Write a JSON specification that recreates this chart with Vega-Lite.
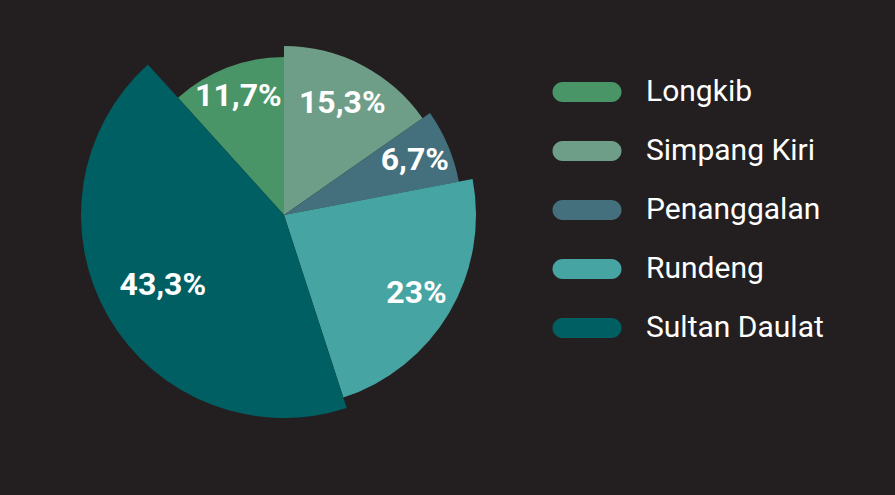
{
  "$schema": "https://vega.github.io/schema/vega-lite/v6.json",
  "width": 568,
  "height": 430,
  "autosize": {"type": "pad"},
  "padding": {"left": 0, "top": 0, "right": 100, "bottom": 65},
  "background": "#231f20",
  "config": {
    "view": {"stroke": null},
    "arc": {"strokeWidth": 0},
    "text": {"font": "Roboto", "fontWeight": "bold", "fontSize": 32, "color": "#ffffff", "align": "center", "baseline": "middle"},
    "legend": {
      "orient": "none",
      "legendX": 567,
      "legendY": 72,
      "padding": 0,
      "symbolType": "M-1.225,-0.5L1.225,-0.5A0.5,0.5 0 0 1 1.225,0.5L-1.225,0.5A0.5,0.5 0 0 1 -1.225,-0.5Z",
      "symbolSize": 1600,
      "symbolStrokeWidth": 0,
      "symbolOpacity": 1,
      "labelFont": "Roboto",
      "labelFontSize": 30,
      "labelColor": "#ffffff",
      "labelOffset": 39,
      "rowPadding": 24,
      "labelLimit": 400
    }
  },
  "data": {
    "values": [
      {"name": "Longkib", "pct": 11.7, "label": "11,7%"},
      {"name": "Simpang Kiri", "pct": 15.3, "label": "15,3%"},
      {"name": "Penanggalan", "pct": 6.7, "label": "6,7%"},
      {"name": "Rundeng", "pct": 23, "label": "23%"},
      {"name": "Sultan Daulat", "pct": 43.3, "label": "43,3%"}
    ]
  },
  "transform": [
    {"window": [{"op": "row_number", "as": "idx"}]},
    {"stack": "pct", "groupby": [], "sort": [{"field": "idx", "order": "ascending"}], "as": ["t0", "t1"]}
  ],
  "layer": [
    {
      "transform": [{"filter": {"field": "name", "equal": "Longkib"}}],
      "mark": "arc",
      "encoding": {
        "theta": {"field": "t0", "type": "quantitative", "scale": {"domain": [0, 100], "range": [-0.7351, 5.5481]}},
        "theta2": {"field": "t1"},
        "radius": {"value": 158},
        "color": {"field": "name", "type": "nominal", "title": null, "scale": {"domain": ["Longkib", "Simpang Kiri", "Penanggalan", "Rundeng", "Sultan Daulat"], "range": ["#4a9567", "#6f9e88", "#446f7c", "#46a4a2", "#005f63"]}}
      }
    },
    {
      "transform": [{"filter": {"field": "name", "equal": "Simpang Kiri"}}],
      "mark": "arc",
      "encoding": {
        "theta": {"field": "t0", "type": "quantitative"},
        "theta2": {"field": "t1"},
        "radius": {"value": 169},
        "color": {"field": "name", "type": "nominal", "title": null}
      }
    },
    {
      "transform": [{"filter": {"field": "name", "equal": "Penanggalan"}}],
      "mark": "arc",
      "encoding": {
        "theta": {"field": "t0", "type": "quantitative"},
        "theta2": {"field": "t1"},
        "radius": {"value": 178},
        "color": {"field": "name", "type": "nominal", "title": null}
      }
    },
    {
      "transform": [{"filter": {"field": "name", "equal": "Rundeng"}}],
      "mark": "arc",
      "encoding": {
        "theta": {"field": "t0", "type": "quantitative"},
        "theta2": {"field": "t1"},
        "radius": {"value": 192},
        "color": {"field": "name", "type": "nominal", "title": null}
      }
    },
    {
      "transform": [{"filter": {"field": "name", "equal": "Sultan Daulat"}}],
      "mark": "arc",
      "encoding": {
        "theta": {"field": "t0", "type": "quantitative"},
        "theta2": {"field": "t1"},
        "radius": {"value": 203},
        "color": {"field": "name", "type": "nominal", "title": null}
      }
    },
    {
      "mark": "text",
      "encoding": {
        "theta": {"field": "pct", "type": "quantitative", "stack": true},
        "order": {"field": "idx", "type": "quantitative"},
        "detail": {"field": "name", "type": "nominal"},
        "radius": {"value": 127},
        "text": {"condition": {"test": "datum.name === 'Longkib'", "field": "label"}, "value": ""}
      }
    },
    {
      "mark": "text",
      "encoding": {
        "theta": {"field": "pct", "type": "quantitative", "stack": true},
        "order": {"field": "idx", "type": "quantitative"},
        "detail": {"field": "name", "type": "nominal"},
        "radius": {"value": 126},
        "text": {"condition": {"test": "datum.name === 'Simpang Kiri'", "field": "label"}, "value": ""}
      }
    },
    {
      "mark": "text",
      "encoding": {
        "theta": {"field": "pct", "type": "quantitative", "stack": true},
        "order": {"field": "idx", "type": "quantitative"},
        "detail": {"field": "name", "type": "nominal"},
        "radius": {"value": 142},
        "text": {"condition": {"test": "datum.name === 'Penanggalan'", "field": "label"}, "value": ""}
      }
    },
    {
      "mark": "text",
      "encoding": {
        "theta": {"field": "pct", "type": "quantitative", "stack": true},
        "order": {"field": "idx", "type": "quantitative"},
        "detail": {"field": "name", "type": "nominal"},
        "radius": {"value": 154},
        "text": {"condition": {"test": "datum.name === 'Rundeng'", "field": "label"}, "value": ""}
      }
    },
    {
      "mark": "text",
      "encoding": {
        "theta": {"field": "pct", "type": "quantitative", "stack": true},
        "order": {"field": "idx", "type": "quantitative"},
        "detail": {"field": "name", "type": "nominal"},
        "radius": {"value": 140},
        "text": {"condition": {"test": "datum.name === 'Sultan Daulat'", "field": "label"}, "value": ""}
      }
    }
  ]
}
